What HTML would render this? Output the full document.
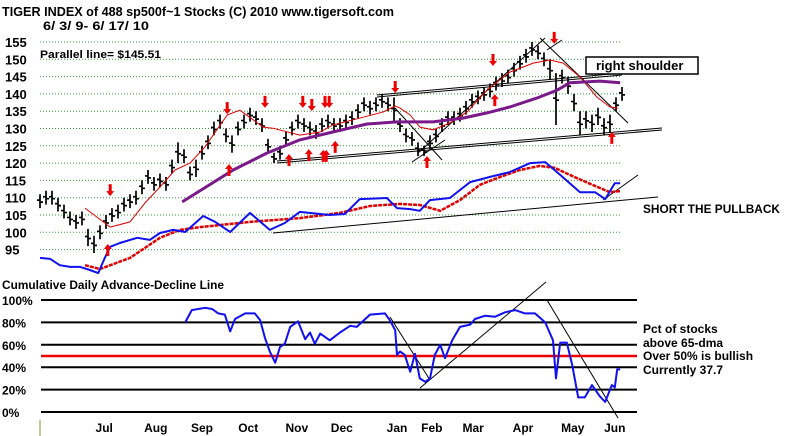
<!DOCTYPE html>
<html><head><meta charset="utf-8"><style>
html,body{margin:0;padding:0;background:#fff;width:800px;height:436px;overflow:hidden}
svg{display:block;font-family:"Liberation Sans",Arial,sans-serif;font-weight:bold}
</style></head><body>
<svg id="chart" width="800" height="436" viewBox="0 0 800 436" xmlns="http://www.w3.org/2000/svg">
<text x="2" y="16" font-size="13" textLength="392" lengthAdjust="spacingAndGlyphs">TIGER INDEX of  488 sp500f~1 Stocks  (C) 2010  www.tigersoft.com</text>
<text x="43" y="30" font-size="12" textLength="106" lengthAdjust="spacingAndGlyphs">6/ 3/ 9- 6/ 17/ 10</text>
<text x="40" y="58" font-size="11" textLength="121" lengthAdjust="spacingAndGlyphs">Parallel line= $145.51</text>
<g id="grid"></g>
<g id="ylabels"></g>
<g id="lines"></g>
<g id="bars"></g>
<g id="series"></g>
<g id="arrows"></g>
<g>
<rect x="586" y="57" width="112" height="17" fill="#fff" stroke="#000" stroke-width="1.5"/>
<text x="596" y="70" font-size="13">right shoulder</text>
</g>
<text x="643" y="213" font-size="12" textLength="137" lengthAdjust="spacingAndGlyphs">SHORT THE PULLBACK</text>
<text x="2" y="289" font-size="12" textLength="222" lengthAdjust="spacingAndGlyphs">Cumulative Daily Advance-Decline Line</text>
<g id="pgrid"></g>
<g id="plabels"></g>
<g id="pseries"></g>
<g id="months"></g>
<g font-size="12">
<text x="643" y="333">Pct of stocks</text>
<text x="643" y="347">above 65-dma</text>
<text x="643" y="360">Over 50% is bullish</text>
<text x="643" y="374">Currently  37.7</text>
</g>
<line x1="40" y1="420" x2="40" y2="436" stroke="#8a8a30" stroke-width="1"/>
</svg>
<script>
const priceTicks=[155,150,145,140,135,130,125,120,115,110,105,100,95];
const pctTicks=[100,80,60,40,20,0];
const pctTickLabels=["100%","80%","60%","40%","20%","0%"];
const monthLabels=["Jul","Aug","Sep","Oct","Nov","Dec","Jan","Feb","Mar","Apr","May","Jun"];
const monthPos=[10.7,19.3,27,34.7,42.8,50.3,59.5,65.3,72.2,80.5,88.8,95.8];
const barHi=[111,112,112,110,108,106,105,106,101,99,102,105,107,108,110,111,112,115,118,116,117,116,121,126,124,119,121,125,128,132,134,130,128,132,134,136,135,133,127,123,125,129,132,134,133,132,131,133,134,133,133,134,135,137,139,138,139,140,139,139,133,130,129,126,125,128,130,133,135,135,136,138,140,141,142,143,145,146,147,149,151,153,155,154,152,150,146,147,145,140,135,135,134,136,133,134,139,142];
const barLo=[107,108,108,106,104,102,101,102,96,94,98,101,103,104,106,107,108,111,114,112,113,112,117,120,120,115,116,121,124,128,130,126,123,128,130,132,131,129,123,120,121,125,128,130,129,128,127,129,130,129,129,130,131,133,135,134,135,136,135,132,129,126,125,122,122,124,126,129,131,131,132,134,136,137,138,139,141,142,143,145,147,149,151,150,148,144,131,143,140,135,128,130,129,131,128,129,135,138];
const adIdx=[0,1.7,3.3,5,6.7,8.3,9.7,10.8,11.7,13.3,16.2,18.3,20,22.2,24.2,27.2,29.2,31.7,35,38.3,40.8,43.3,48.3,50.8,53.3,57.8,59.5,61.7,63.3,65,68.3,71.7,75,78.3,81.7,84.2,86.7,90,92.5,94.2,95.8,96.7];
const adVal=[92.6,92.3,90.5,90.0,90.0,89.1,88.2,92.6,95.8,96.9,98.4,97.8,99.8,100.7,100.1,104.7,103.0,100.1,105.6,100.7,102.7,105.9,105.0,105.3,109.6,109.9,107.0,106.7,106.2,109.3,109.9,114.5,116.0,117.4,120.0,120.3,116.6,111.6,111.6,109.6,114.2,114.2];
const adMaIdx=[7.5,10,15,20,23.3,26.7,35,43.3,50,55,60,63.3,66.7,70,73.3,76.7,80,83.3,85.8,88.3,91.7,95,96.7];
const adMaVal=[90.5,89.4,92.6,98.4,100.7,101.5,103.0,104.1,105.6,107.6,108.2,107.9,106.2,109.3,113.7,116.0,118.0,119.2,118.6,116.6,114.0,111.6,111.9];
const ma20Idx=[7.5,11.7,15,17.5,20,22.5,25,27.5,31.2,33.3,37.2,38.8,43.3,46.7,48.8,52.2,57.2,59.2,60,61.7,63.3,65.5,68.3,71.2,74.5,78.3,82.2,85,87.2,90,92.8,95,96.3];
const ma20Val=[107.0,101.5,103.0,108.5,113.1,118.0,120.0,124.7,133.9,135.3,130.4,130.1,128.1,129.0,131.0,132.5,134.8,136.5,135.9,133.9,130.4,129.6,131.6,134.8,141.1,146.3,148.9,149.8,148.9,144.9,139.1,136.2,135.9];
const ma50Idx=[23.7,32.2,37.8,43.3,48.8,54.5,59.5,65.5,70.5,74.5,78.3,82.8,86.2,88.3,93.3,96.7];
const ma50Val=[108.8,118.0,122.9,126.7,129.0,131.3,131.9,131.9,133.0,134.5,136.2,138.8,141.1,143.2,143.7,143.2];
const pctIdx=[24.2,25.3,27.5,28.7,29.7,30.8,31.7,32.5,34.2,35.8,36.7,37.5,38.3,39.2,40,40.8,41.7,43,44.2,45,45.8,46.7,48.3,50,51.7,52.8,55,57.5,58.3,59.2,59.5,60,60.8,61.7,62.5,63.3,64.2,65,65.8,66.7,67.5,68.7,70,71.7,72.5,74.2,75.8,77.5,79.2,80.8,82.5,84.2,85.5,86,86.7,87.8,88.7,89.7,90.8,92,93.3,94.2,95.3,95.8,96.2,96.7];
const pctVal=[80,91,93,92,88,87,72,83,88,88,82,66,54,44,58,61,76,81,65,71,61,70,64,71,77,76,87,88,82,73,51,54,51,36,52,30,27,30,51,60,48,64,76,78,83,86,85,89,91,88,88,80,64,30,62,62,42,13,13,24,14,9,24,22,38,38];
const downIdx=[11.7,31.2,37.5,43.8,45.3,47.5,48.2,59.2,75.5,85.7];
const downVal=[112.2,135.9,137.7,137.7,136.8,137.7,137.7,142.0,149.8,156.2];
const upIdx=[11.3,31.5,41.5,44.8,47.2,47.7,49.2,64.5,75.8,95.3];
const upVal=[94.9,118.0,120.9,122.3,122.1,122.1,124.7,120.3,138.2,127.3];

const NS="http://www.w3.org/2000/svg";
const X=i=>40+i*6;
const Y=p=>42+(155-p)*3.46;
const PY=v=>412-v*1.12;
function mk(tag,attrs,parent){const e=document.createElementNS(NS,tag);for(const k in attrs)e.setAttribute(k,attrs[k]);document.getElementById(parent).appendChild(e);return e;}

priceTicks.forEach(t=>{
  const g=mk('line',{x1:40,x2:620,y1:Y(t),y2:Y(t),stroke:'#3a9a3a','stroke-width':1,'stroke-dasharray':'1 2'},'grid');
  
  
  const l=mk('text',{x:5,y:Y(t)+5,'font-size':13},'ylabels');
  
  
  l.textContent=t;
});
function ln(x1,y1,x2,y2,c,w){const e=mk('line',{x1,y1,x2,y2,stroke:c||'#000','stroke-width':w||1},'lines');
  
  }
ln(277,161,662,128);ln(277,163,662,130);
ln(377,95,622,73);ln(377,97,622,75);
ln(273,233,658,197);
ln(603,200,638,175);
ln(418,153,545,38);ln(540,38,628,123);ln(547,50,562,40);
ln(395,108,442,160);ln(412,162,445,140);
ln(420,388,546,282);ln(390,317,430,380);ln(547,300,618,418);

for(let i=0;i<barHi.length;i++){
  const x=X(i),h=Y(barHi[i]),l=Y(barLo[i]),m=(h+l)/2;
  const b=mk('path',{d:`M${x} ${h}V${l}M${x-3} ${m-1}H${x}M${x} ${m+1}H${x+3}`,stroke:'#000','stroke-width':1.7,fill:'none'},'bars');
  
  
}
function poly(idx,val,yf,color,w,parent,name,dash){
  const pts=idx.map((v,k)=>X(v).toFixed(1)+','+yf(val[k]).toFixed(1)).join(' ');
  const e=mk('polyline',{points:pts,fill:'none',stroke:color,'stroke-width':w,'stroke-linejoin':'round'},parent);
  if(dash)e.setAttribute('stroke-dasharray',dash);
  
  
}
poly(ma20Idx,ma20Val,Y,'#e00000',1,'series','ma20-line');
poly(ma50Idx,ma50Val,Y,'#7a1a8a',3,'series','ma50-line');
poly(adMaIdx,adMaVal,Y,'#e00000',2.5,'series','ad-ma-line','4 1');
poly(adIdx,adVal,Y,'#1010f0',2,'series','ad-line');

function arrow(i,p,up,name){
  const x=X(i),y=Y(p);
  const d=up?`M${x} ${y-6}L${x+4} ${y-1}H${x+1.5}V${y+6}H${x-1.5}V${y-1}H${x-4}Z`:`M${x} ${y+6}L${x+4} ${y+1}H${x+1.5}V${y-6}H${x-1.5}V${y+1}H${x-4}Z`;
  const a=mk('path',{d,fill:'#ee0000'},'arrows');
  
  
}
downIdx.forEach((v,k)=>arrow(v,downVal[k],false,'sell-arrow'));
upIdx.forEach((v,k)=>arrow(v,upVal[k],true,'buy-arrow'));

pctTicks.forEach((t,k)=>{
  const g=mk('line',{x1:41,x2:637,y1:PY(t),y2:PY(t),stroke:'#000','stroke-width':2},'pgrid');
  
  
  const l=mk('text',{x:2,y:PY(t)+5,'font-size':12},'plabels');
  
  
  l.textContent=pctTickLabels[k];
});
const r=mk('line',{x1:41,x2:637,y1:PY(50),y2:PY(50),stroke:'#ee0000','stroke-width':2.5},'pgrid');


poly(pctIdx,pctVal,PY,'#1010f0',2,'pseries','pct-above-65dma-line');

monthLabels.forEach((m,k)=>{
  const t=mk('text',{x:X(monthPos[k]),y:432,'font-size':12,'text-anchor':'middle'},'months');
  
  
  t.textContent=m;
});
</script>
</body></html>
